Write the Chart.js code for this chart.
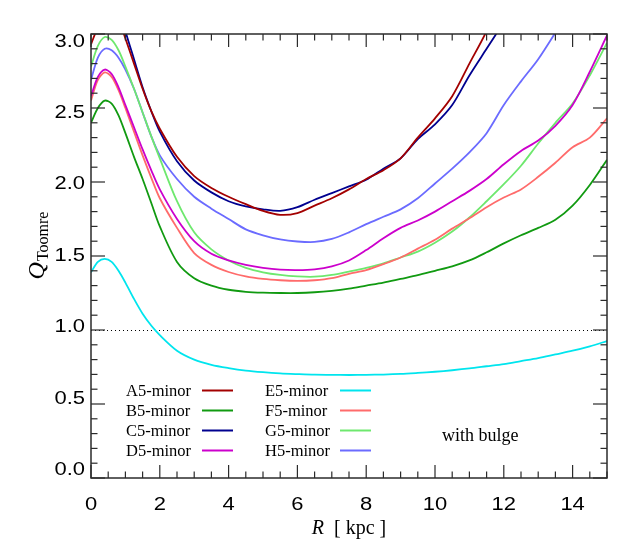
<!DOCTYPE html>
<html>
<head>
<meta charset="utf-8">
<title>Q Toomre profiles</title>
<script src="https://cdn.jsdelivr.net/npm/chart.js@4.4.0/dist/chart.umd.min.js"></script>
<style>
  html, body { margin: 0; padding: 0; background: #fff; }
  #wrap { width: 629px; height: 550px; }
</style>
</head>
<body>
<div id="wrap"><canvas id="toomre-chart" width="629" height="550"></canvas></div>
<script>
// radius sampling (kpc)
const radius = [0, 0.2, 0.4, 0.6, 0.8, 1, 1.25, 1.5, 1.75, 2, 2.5, 3, 3.5, 4, 4.5, 5, 5.5, 6, 6.5, 7,
                7.5, 8, 8.5, 9, 9.5, 10, 10.5, 11, 11.5, 12, 12.5, 13, 13.5, 14, 14.5, 15];

const seriesNames = ['A5-minor', 'B5-minor', 'C5-minor', 'D5-minor',
                     'E5-minor', 'F5-minor', 'G5-minor', 'H5-minor'];

// Q values (null = off the top of the frame)
const qA5 = [2.93, 3.05, 3.16, 3.18, 3.10, 2.97, 2.80, 2.63, 2.48, 2.36, 2.17, 2.04, 1.96, 1.90, 1.85, 1.805, 1.778, 1.79,
             1.84, 1.89, 1.95, 2.02, 2.08, 2.16, 2.30, 2.43, 2.58, 2.80, 3.02, 3.3, null, null, null, null, null, null];
const qB5 = [2.40, 2.50, 2.55, 2.53, 2.45, 2.33, 2.17, 2.02, 1.86, 1.70, 1.46, 1.35, 1.30, 1.272, 1.258, 1.252, 1.25, 1.25,
             1.255, 1.265, 1.28, 1.30, 1.32, 1.345, 1.37, 1.40, 1.43, 1.47, 1.525, 1.585, 1.64, 1.69, 1.745, 1.84, 1.98, 2.15];
const qC5 = [3.15, 3.30, 3.36, 3.33, 3.20, 3.02, 2.83, 2.64, 2.48, 2.34, 2.14, 2.01, 1.93, 1.87, 1.835, 1.815, 1.805, 1.83,
             1.88, 1.925, 1.97, 2.015, 2.09, 2.16, 2.29, 2.39, 2.52, 2.72, 2.90, 3.08, null, null, null, null, null, null];
const qD5 = [2.58, 2.71, 2.76, 2.73, 2.64, 2.52, 2.37, 2.22, 2.08, 1.95, 1.75, 1.60, 1.515, 1.47, 1.44, 1.42, 1.408, 1.405,
             1.41, 1.43, 1.47, 1.54, 1.62, 1.69, 1.74, 1.80, 1.87, 1.94, 2.02, 2.12, 2.21, 2.28, 2.38, 2.52, 2.745, 2.99];
const qE5 = [1.39, 1.46, 1.48, 1.46, 1.40, 1.32, 1.21, 1.11, 1.03, 0.965, 0.86, 0.80, 0.765, 0.743, 0.726, 0.715, 0.707, 0.702,
             0.698, 0.697, 0.696, 0.697, 0.699, 0.703, 0.71, 0.718, 0.728, 0.74, 0.755, 0.77, 0.79, 0.81, 0.835, 0.86, 0.89, 0.925];
const qF5 = [2.55, 2.69, 2.74, 2.71, 2.62, 2.50, 2.34, 2.18, 2.03, 1.89, 1.69, 1.52, 1.44, 1.392, 1.362, 1.345, 1.336, 1.332,
             1.336, 1.35, 1.38, 1.405, 1.445, 1.49, 1.55, 1.61, 1.685, 1.755, 1.83, 1.895, 1.95, 2.035, 2.13, 2.235, 2.30, 2.43];
const qG5 = [2.78, 2.92, 2.98, 2.96, 2.89, 2.78, 2.63, 2.47, 2.31, 2.16, 1.87, 1.66, 1.545, 1.47, 1.42, 1.39, 1.372, 1.362,
             1.36, 1.372, 1.395, 1.42, 1.45, 1.49, 1.53, 1.59, 1.665, 1.76, 1.87, 1.985, 2.11, 2.26, 2.40, 2.53, 2.72, 2.94];
const qH5 = [2.69, 2.84, 2.90, 2.89, 2.84, 2.76, 2.63, 2.47, 2.31, 2.18, 2.02, 1.90, 1.82, 1.75, 1.68, 1.64, 1.612, 1.598,
             1.595, 1.615, 1.66, 1.715, 1.765, 1.815, 1.89, 1.99, 2.09, 2.20, 2.33, 2.52, 2.68, 2.83, 3.01, 3.2, null, null];

const seriesValues = [qA5, qB5, qC5, qD5, qE5, qF5, qG5, qH5];
const lineColors = ['#a30000', '#119a11', '#00008f', '#cc00cc', '#00e5ee', '#ff6b6b', '#6ee86e', '#6b6bff'];

// axis ticks
const xMajorStep = 2, xMinorPerMajor = 4;
const yMajorStep = 0.5, yMinorPerMajor = 5;
const qLimit = 1.0;

const SANS = '"Liberation Sans", Arial, sans-serif';
const SERIF = '"Liberation Serif", "Times New Roman", serif';

function wideText(ctx, txt, x, y, align) {
    // the original tick labels are a wide Helvetica
    ctx.save();
    ctx.translate(x, y);
    ctx.scale(1.22, 1);
    ctx.textAlign = align;
    ctx.fillText(txt, 0, 0);
    ctx.restore();
}

const framePlugin = {
    id: 'idlFrame',
    beforeDatasetsDraw(chart) {
        const ctx = chart.ctx, a = chart.chartArea, ys = chart.scales.y;
        const yy = Math.round(ys.getPixelForValue(qLimit)) + 0.5;
        ctx.save();
        ctx.strokeStyle = '#000';
        ctx.lineWidth = 1;
        ctx.setLineDash([1, 3]);
        ctx.beginPath();
        ctx.moveTo(a.left, yy);
        ctx.lineTo(a.right, yy);
        ctx.stroke();
        ctx.restore();
    },
    afterDraw(chart) {
        const ctx = chart.ctx, a = chart.chartArea;
        const xs = chart.scales.x, ys = chart.scales.y;
        ctx.save();
        ctx.setLineDash([]);

        // frame
        ctx.strokeStyle = '#2b2b2b';
        ctx.lineWidth = 1.5;
        ctx.strokeRect(a.left, a.top, a.right - a.left, a.bottom - a.top);

        // inward ticks on all four sides
        ctx.fillStyle = '#2b2b2b';
        const nx = Math.round((15 - 0) / xMajorStep * xMinorPerMajor);
        for (let k = 0; k <= nx; k++) {
            const v = k * xMajorStep / xMinorPerMajor;
            const px = xs.getPixelForValue(v);
            const len = (k % xMinorPerMajor === 0) ? 13 : 6.5;
            ctx.fillRect(px - 0.6, a.bottom - len, 1.2, len);
            ctx.fillRect(px - 0.6, a.top, 1.2, len);
        }
        const ny = Math.round(3 / yMajorStep * yMinorPerMajor);
        for (let k = 0; k <= ny; k++) {
            const v = k * yMajorStep / yMinorPerMajor;
            const py = ys.getPixelForValue(v);
            const len = (k % yMinorPerMajor === 0) ? 14 : 6.5;
            ctx.fillRect(a.left, py - 0.6, len, 1.2);
            ctx.fillRect(a.right - len, py - 0.6, len, 1.2);
        }

        // tick labels from the scales' own ticks
        ctx.fillStyle = '#000';
        ctx.font = '18px ' + SANS;
        ctx.textBaseline = 'alphabetic';
        xs.ticks.forEach(t => {
            wideText(ctx, String(t.value), xs.getPixelForValue(t.value), 510, 'center');
        });
        const midY = (a.top + a.bottom) / 2;
        ctx.textBaseline = 'middle';
        ys.ticks.forEach(t => {
            const py = ys.getPixelForValue(t.value);
            wideText(ctx, t.value.toFixed(1), a.left - 6, midY + (py - midY) * 0.966, 'right');
        });

        // x title: R [ kpc ]
        ctx.textBaseline = 'alphabetic';
        ctx.textAlign = 'left';
        ctx.font = 'italic 20px ' + SERIF;
        const rW = ctx.measureText('R').width;
        ctx.font = '20px ' + SERIF;
        const restW = ctx.measureText('  [ kpc ]').width;
        const tx = (a.left + a.right) / 2 - (rW + restW) / 2;
        ctx.font = 'italic 20px ' + SERIF;
        ctx.fillText('R', tx, 534);
        ctx.font = '20px ' + SERIF;
        ctx.fillText('  [ kpc ]', tx + rW, 534);

        // y title: Q_Toomre
        ctx.save();
        ctx.translate(44, 246);
        ctx.rotate(-Math.PI / 2);
        ctx.font = 'italic 24px ' + SERIF;
        const qW = ctx.measureText('Q').width;
        ctx.font = '16px ' + SERIF;
        const subW = ctx.measureText('Toomre').width;
        const sx = -(qW + subW) / 2;
        ctx.font = 'italic 24px ' + SERIF;
        ctx.fillText('Q', sx, 0);
        ctx.font = '16px ' + SERIF;
        ctx.fillText('Toomre', sx + qW + 1, 4);
        ctx.restore();

        // legend, two columns of four
        ctx.font = '16.5px ' + SERIF;
        ctx.textBaseline = 'alphabetic';
        chart.data.datasets.forEach((ds, i) => {
            const col = Math.floor(i / 4), row = i % 4;
            const textX = col ? 265 : 126;
            const lineX = col ? 340 : 202;
            const rowY = 390.5 + row * 20;
            ctx.fillStyle = '#000';
            ctx.fillText(ds.label, textX, rowY + 5.5);
            ctx.strokeStyle = ds.borderColor;
            ctx.lineWidth = 2;
            ctx.beginPath();
            ctx.moveTo(lineX, rowY);
            ctx.lineTo(lineX + 31, rowY);
            ctx.stroke();
        });

        ctx.fillStyle = '#000';
        ctx.font = '18px ' + SERIF;
        ctx.fillText('with bulge', 442, 440.5);
        ctx.restore();
    }
};

const ctx = document.getElementById('toomre-chart').getContext('2d');
const toomreChart = new Chart(ctx, {
    type: 'line',
    data: {
        datasets: seriesNames.map((name, i) => ({
            label: name,
            data: radius.map((r, j) => ({ x: r, y: seriesValues[i][j] })),
            borderColor: lineColors[i],
            borderWidth: 1.8,
            pointRadius: 0,
            fill: false,
            tension: 0.3,
            spanGaps: false,
            clip: 0
        }))
    },
    options: {
        responsive: false,
        animation: false,
        devicePixelRatio: 1,
        layout: { padding: { top: 34, right: 22, left: 0, bottom: 0 } },
        plugins: {
            legend: { display: false },
            tooltip: { enabled: false }
        },
        scales: {
            x: {
                type: 'linear',
                min: 0,
                max: 15,
                ticks: { display: false, stepSize: xMajorStep, includeBounds: false },
                grid: { display: false },
                border: { display: false },
                afterFit: s => { s.height = 72; }
            },
            y: {
                type: 'linear',
                min: 0,
                max: 3,
                ticks: { display: false, stepSize: yMajorStep },
                grid: { display: false },
                border: { display: false },
                afterFit: s => { s.width = 91; }
            }
        }
    },
    plugins: [framePlugin]
});
</script>
</body>
</html>
